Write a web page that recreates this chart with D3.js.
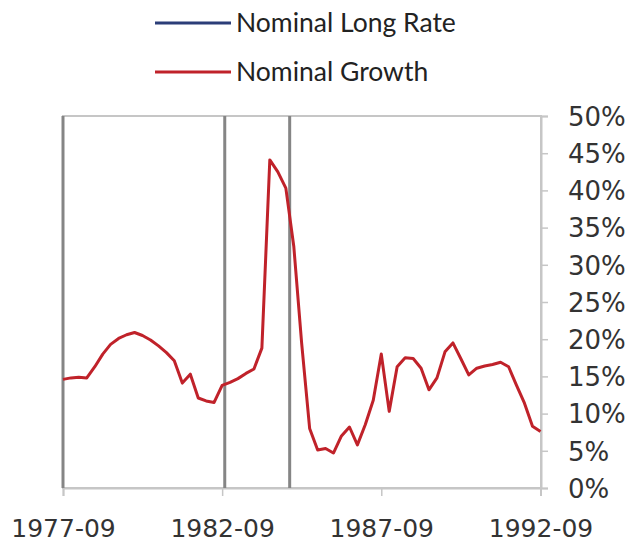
<!DOCTYPE html>
<html>
<head>
<meta charset="utf-8">
<script src="https://cdn.jsdelivr.net/npm/d3@7"></script>
<style>
  html, body { margin: 0; padding: 0; background: #fff; }
  svg { display: block; }
</style>
</head>
<body>
<svg id="chart" width="636" height="544"></svg>
<script>
// ---- data ----
const seriesNames = ["Nominal Long Rate", "Nominal Growth"];
const seriesColors = ["#2b3d78", "#c0222a"];
const startDate = "1977-09";
// quarterly nominal growth (%), 1977-09 .. 1992-09
const nominalGrowth = [
  14.6, 14.8, 14.9, 14.8, 16.3, 18.0, 19.3, 20.1, 20.6, 20.9,
  20.5, 19.9, 19.1, 18.2, 17.1, 14.1, 15.3, 12.1, 11.7, 11.5,
  13.8, 14.2, 14.7, 15.4, 16.0, 18.8, 44.1, 42.5, 40.3, 32.5,
  19.5, 8.0, 5.1, 5.3, 4.7, 7.0, 8.2, 5.8, 8.5, 11.8,
  18.0, 10.3, 16.3, 17.5, 17.4, 16.1, 13.2, 14.8, 18.3, 19.5,
  17.4, 15.2, 16.1, 16.4, 16.6, 16.9, 16.3, 13.8, 11.4, 8.3, 7.6
];
const xTickLabels = ["1977-09", "1982-09", "1987-09", "1992-09"];
const yTickValues = [0, 5, 10, 15, 20, 25, 30, 35, 40, 45, 50];
const markerDates = ["1977-09-01", "1982-10-01", "1984-10-15"];

// ---- layout ----
const svg = d3.select("#chart");
const mLeft = 63, mRight = 541, mTop = 116, mBottom = 488;
const parseYM = d3.timeParse("%Y-%m");
const parseYMD = d3.timeParse("%Y-%m-%d");
const fmtYM = d3.timeFormat("%Y-%m");

const start = parseYM(startDate);
const data = nominalGrowth.map((v, i) => ({ date: d3.timeMonth.offset(start, 3 * i), value: v }));

const x = d3.scaleTime()
  .domain([parseYM(xTickLabels[0]), parseYM(xTickLabels[xTickLabels.length - 1])])
  .range([mLeft, mRight - 0.5]);
const y = d3.scaleLinear().domain([0, 50]).range([mBottom, mTop]);

// plot frame
svg.append("rect")
  .attr("x", mLeft).attr("y", mTop)
  .attr("width", mRight - mLeft).attr("height", mBottom - mTop)
  .attr("fill", "none").attr("stroke", "#c6c6c6").attr("stroke-width", 2);

// y axis (right)
const yAxis = svg.append("g")
  .attr("transform", `translate(${mRight},0)`)
  .call(d3.axisRight(y).tickValues(yTickValues).tickSize(7).tickFormat(d => d + "%"));
yAxis.select(".domain").attr("stroke", "#c6c6c6").attr("stroke-width", 2);
yAxis.selectAll(".tick line").attr("stroke", "#c6c6c6").attr("stroke-width", 1.5);
yAxis.selectAll(".tick text")
  .attr("x", 27).attr("dy", "0.36em")
  .attr("fill", "#333")
  .style("font-family", "'DejaVu Sans', sans-serif")
  .style("font-size", "26px");

// x axis (bottom)
const xAxis = svg.append("g")
  .attr("transform", `translate(0,${mBottom})`)
  .call(d3.axisBottom(x).tickValues(xTickLabels.map(parseYM)).tickSize(8).tickFormat(fmtYM));
xAxis.select(".domain").attr("stroke", "#c6c6c6").attr("stroke-width", 2);
xAxis.selectAll(".tick line").attr("stroke", "#c6c6c6").attr("stroke-width", 1.5);
xAxis.selectAll(".tick text")
  .attr("y", 49).attr("dy", 0)
  .attr("fill", "#333")
  .style("font-family", "'DejaVu Sans', sans-serif")
  .style("font-size", "25px");

// vertical marker lines
svg.append("g").selectAll("line")
  .data(markerDates.map(parseYMD))
  .join("line")
  .attr("x1", d => x(d)).attr("x2", d => x(d))
  .attr("y1", mTop).attr("y2", mBottom)
  .attr("stroke", "#858585").attr("stroke-width", 3);

// nominal growth line
svg.append("path")
  .datum(data)
  .attr("fill", "none")
  .attr("stroke", seriesColors[1])
  .attr("stroke-width", 3)
  .attr("stroke-linejoin", "round")
  .attr("d", d3.line().x(d => x(d.date)).y(d => y(d.value)));

// legend
const legend = svg.append("g");
const legendY = [23, 72];
seriesNames.forEach((name, i) => {
  legend.append("line")
    .attr("x1", 155).attr("x2", 231)
    .attr("y1", legendY[i]).attr("y2", legendY[i])
    .attr("stroke", seriesColors[i]).attr("stroke-width", 3);
  legend.append("text")
    .attr("x", 236).attr("y", legendY[i] + 9)
    .attr("fill", "#222")
    .style("font-family", "Lato, sans-serif")
    .style("font-size", "26.5px")
    .text(name);
});
</script>
</body>
</html>
